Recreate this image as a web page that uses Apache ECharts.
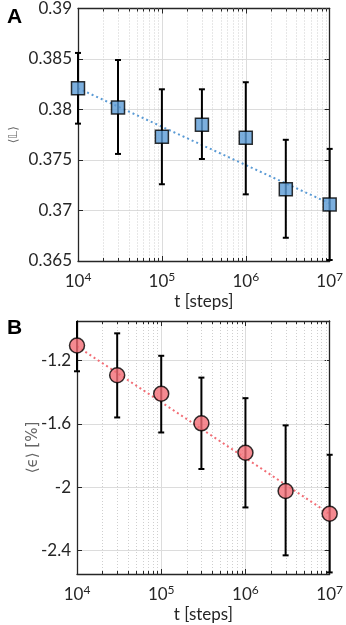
<!DOCTYPE html>
<html>
<head>
<meta charset="utf-8">
<script src="https://cdn.jsdelivr.net/npm/echarts@6/dist/echarts.min.js"></script>
<style>
  html, body { margin: 0; padding: 0; background: #fff; }
  #main { width: 346px; height: 625px; }
</style>
</head>
<body>
<div id="main"></div>
<script>
// t [steps]
const steps = [1e4, 3e4, 1e5, 3e5, 1e6, 3e6, 1e7];

// panel A: <L>
const lMean = [0.3821, 0.3802, 0.3773, 0.3785, 0.3772, 0.3721, 0.3706];
const lLow  = [0.3786, 0.3756, 0.3726, 0.3751, 0.3716, 0.3673, 0.3651];
const lHigh = [0.3856, 0.3849, 0.3820, 0.3820, 0.3827, 0.3770, 0.3761];
const lFitX = [1e4, 1e7];
const lFit  = [0.3821, 0.3707];

// panel B: <eps> [%]
const epsMean = [-1.105, -1.293, -1.410, -1.597, -1.783, -2.025, -2.169];
const epsLow  = [-1.268, -1.560, -1.655, -1.886, -2.129, -2.432, -2.540];
const epsHigh = [-0.942, -1.028, -1.170, -1.308, -1.438, -1.610, -1.796];
const epsFitX = [1e4, 1e7];
const epsFit  = [-1.11, -2.17];

// ticks
const xTicks = [1e4, 1e5, 1e6, 1e7];
const lTicks = [0.365, 0.37, 0.375, 0.38, 0.385, 0.39];
const epsTicks = [-2.4, -2, -1.6, -1.2];

// minor decades 2..9
const minorX = [];
[1e4, 1e5, 1e6].forEach(d => {
    for (let k = 2; k <= 9; k++) minorX.push(d * k);
});

const txt = '#262626';
const fontMain = 'Lato';

let myChart = echarts.init(document.getElementById('main'));

function xAxisPair(grid) {
    let base = {
        type: 'log',
        logBase: 10,
        min: xTicks[0],
        max: xTicks[xTicks.length - 1],
        splitNumber: 3,
        gridIndex: grid,
        axisLine: { show: true, lineStyle: { color: txt, width: 1.3 } },
        axisTick: { show: true, inside: true, length: 5, lineStyle: { color: txt } },
        splitLine: { show: false },
        axisLabel: { show: false }
    };
    let bottom = Object.assign({}, base, {
        position: 'bottom',
        splitLine: { show: true, lineStyle: { color: '#dcdcdc', width: 1 } },
        name: 't [steps]',
        nameLocation: 'middle',
        nameGap: 32,
        nameMoveOverlap: false,
        nameTextStyle: { color: txt, fontSize: 17, fontFamily: fontMain },
        axisLabel: {
            show: true,
            margin: 10,
            formatter: v => '{b|10}{s|' + Math.round(Math.log10(v)) + '}',
            rich: {
                b: { fontSize: 17, color: txt, fontFamily: fontMain },
                s: { fontSize: 12, color: txt, fontFamily: fontMain, padding: [0, 0, 9, 0] }
            }
        }
    });
    let top = Object.assign({}, base, { position: 'top' });
    return [bottom, top];
}

function yAxisPair(grid, min, max, ticks, name, nameGap, nameSize) {
    let base = {
        type: 'value',
        gridIndex: grid,
        min: min,
        max: max,
        axisLine: { show: true, lineStyle: { color: txt, width: 1.3 } },
        axisTick: { show: true, inside: true, length: 5, lineStyle: { color: txt }, customValues: ticks },
        splitLine: { show: false },
        axisLabel: { show: false }
    };
    let left = Object.assign({}, base, {
        position: 'left',
        splitLine: { show: true, lineStyle: { color: '#dcdcdc', width: 1 } },
        name: name,
        nameLocation: 'middle',
        nameRotate: 90,
        nameGap: nameGap,
        nameMoveOverlap: false,
        nameTextStyle: { color: '#666', fontSize: nameSize, fontFamily: 'DejaVu Sans' },
        axisLabel: {
            show: true,
            margin: 6,
            color: txt,
            fontSize: 17,
            fontFamily: fontMain,
            customValues: ticks,
            formatter: v => String(+v.toFixed(3))
        }
    });
    let right = Object.assign({}, base, { position: 'right' });
    return [left, right];
}

// error bars
function errorBar(params, api) {
    let x = api.value(0);
    let lo = api.coord([x, api.value(1)]);
    let hi = api.coord([x, api.value(2)]);
    let cs = params.coordSys;
    let yTop = Math.max(hi[1], cs.y);
    let yBot = Math.min(lo[1], cs.y + cs.height);
    let st = { stroke: '#000', lineWidth: 2 };
    let kids = [{ type: 'line', shape: { x1: lo[0], y1: yTop, x2: lo[0], y2: yBot }, style: st }];
    if (hi[1] >= cs.y) kids.push({ type: 'line', shape: { x1: hi[0] - 3, y1: hi[1], x2: hi[0] + 3, y2: hi[1] }, style: st });
    if (lo[1] <= cs.y + cs.height) kids.push({ type: 'line', shape: { x1: lo[0] - 3, y1: lo[1], x2: lo[0] + 3, y2: lo[1] }, style: st });
    return { type: 'group', children: kids };
}

// minor grid + minor ticks on log x
function minorGrid(params, api) {
    let p = api.coord([api.value(0), api.value(1)]);
    let cs = params.coordSys;
    let x = Math.round(p[0]) + 0.5;
    return {
        type: 'group',
        children: [
            { type: 'line', shape: { x1: x, y1: cs.y, x2: x, y2: cs.y + cs.height },
              style: { stroke: '#cfcfcf', lineWidth: 1, lineDash: [1, 2] } },
            { type: 'line', shape: { x1: x, y1: cs.y + cs.height, x2: x, y2: cs.y + cs.height - 3 },
              style: { stroke: txt, lineWidth: 1 } },
            { type: 'line', shape: { x1: x, y1: cs.y, x2: x, y2: cs.y + 3 },
              style: { stroke: txt, lineWidth: 1 } }
        ]
    };
}

let xA = xAxisPair(0), xB = xAxisPair(1);
let yA = yAxisPair(0, 0.365, 0.39, lTicks, '\u27E8\uD835\uDD43\u27E9', 58, 12);
let yB = yAxisPair(1, -2.55, -0.95, epsTicks, '\u27E8\u03F5\u27E9 [%]', 36, 15);

let option = {
    animation: false,
    backgroundColor: '#fff',
    title: [
        { text: 'A', left: 2, top: 2, textStyle: { fontSize: 21, fontWeight: 'bold', color: '#000', fontFamily: 'Liberation Sans' } },
        { text: 'B', left: 2, top: 313, textStyle: { fontSize: 21, fontWeight: 'bold', color: '#000', fontFamily: 'Liberation Sans' } }
    ],
    grid: [
        { left: 77, top: 8, width: 253, height: 253 },
        { left: 77, top: 321, width: 253, height: 253 }
    ],
    xAxis: [xA[0], xA[1], xB[0], xB[1]],
    yAxis: [yA[0], yA[1], yB[0], yB[1]],
    series: [
        {
            type: 'custom', xAxisIndex: 0, yAxisIndex: 0, z: 1, silent: true,
            renderItem: minorGrid,
            data: minorX.map(v => [v, lTicks[0]])
        },
        {
            type: 'custom', xAxisIndex: 2, yAxisIndex: 2, z: 1, silent: true,
            renderItem: minorGrid,
            data: minorX.map(v => [v, epsTicks[0]])
        },
        {
            name: 'fit L', type: 'line', xAxisIndex: 0, yAxisIndex: 0, z: 2,
            symbol: 'none',
            lineStyle: { color: '#5b9bd5', width: 2, type: [2, 3] },
            data: lFitX.map((x, i) => [x, lFit[i]])
        },
        {
            name: 'err L', type: 'custom', xAxisIndex: 0, yAxisIndex: 0, z: 3,
            renderItem: errorBar,
            data: steps.map((x, i) => [x, lLow[i], lHigh[i]])
        },
        {
            name: 'L', type: 'scatter', xAxisIndex: 0, yAxisIndex: 0, z: 4,
            symbol: 'rect', symbolSize: 13,
            itemStyle: { color: '#5b9bd6', borderColor: '#000', borderWidth: 1.5 },
            data: steps.map((x, i) => [x, lMean[i]])
        },
        {
            name: 'fit eps', type: 'line', xAxisIndex: 2, yAxisIndex: 2, z: 2,
            symbol: 'none',
            lineStyle: { color: '#f26d75', width: 2, type: [2, 3] },
            data: epsFitX.map((x, i) => [x, epsFit[i]])
        },
        {
            name: 'err eps', type: 'custom', xAxisIndex: 2, yAxisIndex: 2, z: 3,
            renderItem: errorBar,
            data: steps.map((x, i) => [x, epsLow[i], epsHigh[i]])
        },
        {
            name: 'eps', type: 'scatter', xAxisIndex: 2, yAxisIndex: 2, z: 4,
            symbol: 'circle', symbolSize: 15,
            itemStyle: { color: '#f26d75', borderColor: '#000', borderWidth: 1.5 },
            data: steps.map((x, i) => [x, epsMean[i]])
        }
    ]
};
myChart.setOption(option);
</script>
</body>
</html>
